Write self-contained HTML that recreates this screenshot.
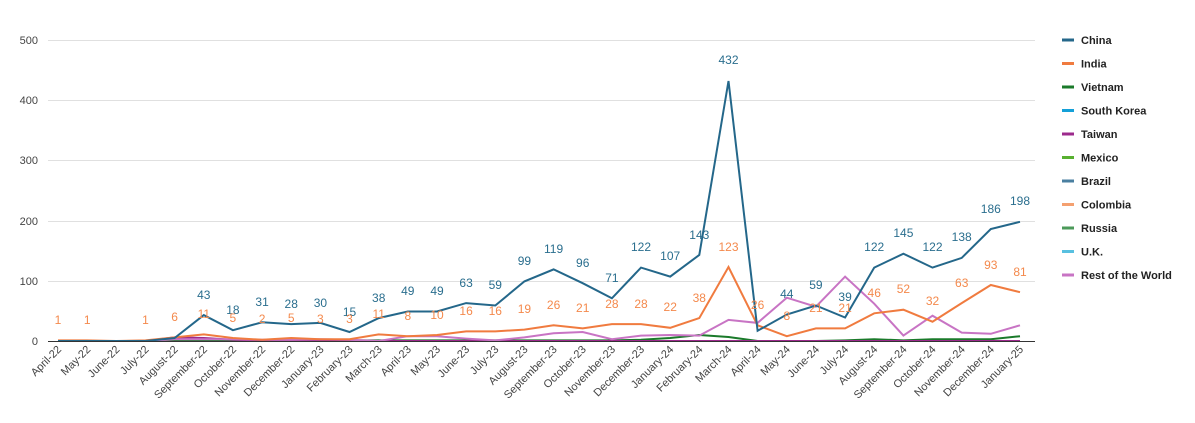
<!DOCTYPE html>
<html><head><meta charset="utf-8"><style>
body{margin:0;background:#fff;}
svg{display:block;font-family:"Liberation Sans",Arial,sans-serif;}
.yl{font-size:11px;fill:#444;text-anchor:end}
.xl{font-size:11px;fill:#444;text-anchor:end}
.lc{font-size:12px;fill:#2a6e8e;text-anchor:middle}
.li{font-size:12px;fill:#f4894c;text-anchor:middle}
.lg{font-size:11px;fill:#222;font-weight:bold}
</style></head><body>
<svg width="1195" height="423" viewBox="0 0 1195 423">
<g stroke="#e0e0e0" stroke-width="1">
<line x1="48" y1="40.5" x2="1035" y2="40.5"/><line x1="48" y1="100.5" x2="1035" y2="100.5"/><line x1="48" y1="160.5" x2="1035" y2="160.5"/><line x1="48" y1="221.5" x2="1035" y2="221.5"/><line x1="48" y1="281.5" x2="1035" y2="281.5"/>
</g>
<g class="yl"><text x="38" y="44">500</text><text x="38" y="104">400</text><text x="38" y="164">300</text><text x="38" y="225">200</text><text x="38" y="285">100</text><text x="38" y="345">0</text></g>
<!-- minor series -->
<polyline fill="none" stroke="#58c0e0" stroke-width="2" points="58,341 1020,341"/>
<polyline fill="none" stroke="#1a7a2a" stroke-width="2" points="58,341 174.6,341 203.8,340 232.9,340 262.1,340.4 291.2,340 320.4,339.8 349.5,340.4 378.7,340.4 407.8,340.4 437,340.4 466.1,340.4 495.3,340.4 524.4,340.4 553.6,340.4 582.7,340.4 611.9,340.4 641,339.8 670.2,338 699.3,335 728.5,337 757.6,341 786.8,341 815.9,341 845.1,340.4 874.2,339.2 903.4,340.4 932.5,339.2 961.7,339.2 990.8,339.2 1020,336.2"/>
<polyline fill="none" stroke="#9c2a8c" stroke-width="2" points="58,341 145.5,341 174.6,337.4 203.8,338 232.9,339.8 262.1,340.4 291.2,340.4 320.4,340.4 349.5,340.4 378.7,341 1020,341"/>
<polyline fill="none" stroke="#c874c4" stroke-width="2" points="58,341 87.2,341 116.3,341 145.5,341 174.6,339.2 203.8,339.2 232.9,339.2 262.1,339.8 291.2,339.8 320.4,339.2 349.5,339.8 378.7,341 407.8,336.2 437,336.2 466.1,338.6 495.3,340.4 524.4,337.4 553.6,333.2 582.7,332 611.9,339.2 641,335.6 670.2,335 699.3,335.6 728.5,319.9 757.6,322.9 786.8,297.7 815.9,306.7 845.1,276.6 874.2,303.7 903.4,335.6 932.5,315.7 961.7,332.6 990.8,333.8 1020,325.3"/>
<polyline fill="none" stroke="#f07b3f" stroke-width="2" points="58,340.4 87.2,340.4 116.3,341 145.5,340.4 174.6,337.4 203.8,334.4 232.9,338 262.1,339.8 291.2,338 320.4,339.2 349.5,339.2 378.7,334.4 407.8,336.2 437,335 466.1,331.4 495.3,331.4 524.4,329.6 553.6,325.3 582.7,328.4 611.9,324.1 641,324.1 670.2,327.8 699.3,318.1 728.5,267 757.6,325.3 786.8,336.2 815.9,328.4 845.1,328.4 874.2,313.3 903.4,309.7 932.5,321.7 961.7,303.1 990.8,285 1020,292.2"/>
<polyline fill="none" stroke="#24678a" stroke-width="2" points="58,341 145.5,341 174.6,338 203.8,315.1 232.9,330.2 262.1,322.3 291.2,324.1 320.4,322.9 349.5,332 378.7,318.1 407.8,311.5 437,311.5 466.1,303.1 495.3,305.5 524.4,281.4 553.6,269.4 582.7,283.2 611.9,298.3 641,267.6 670.2,276.6 699.3,254.9 728.5,81 757.6,330.8 786.8,314.5 815.9,305.5 845.1,317.5 874.2,267.6 903.4,253.7 932.5,267.6 961.7,257.9 990.8,229 1020,221.8"/>
<line x1="48" y1="341.5" x2="1035" y2="341.5" stroke="#333" stroke-width="1"/>
<!-- China labels -->
<g class="lc">
<text x="203.8" y="299">43</text><text x="232.9" y="314">18</text><text x="262.1" y="306">31</text><text x="291.2" y="308">28</text><text x="320.4" y="307">30</text><text x="349.5" y="316">15</text><text x="378.7" y="302">38</text><text x="407.8" y="295">49</text><text x="437" y="295">49</text><text x="466.1" y="287">63</text><text x="495.3" y="289">59</text><text x="524.4" y="265">99</text><text x="553.6" y="253">119</text><text x="582.7" y="267">96</text><text x="611.9" y="282">71</text><text x="641" y="251">122</text><text x="670.2" y="260">107</text><text x="699.3" y="239">143</text><text x="728.5" y="64">432</text><text x="786.8" y="298">44</text><text x="815.9" y="289">59</text><text x="845.1" y="301">39</text><text x="874.2" y="251">122</text><text x="903.4" y="237">145</text><text x="932.5" y="251">122</text><text x="961.7" y="241">138</text><text x="990.8" y="213">186</text><text x="1020" y="205">198</text>
</g>
<g class="li">
<text x="58" y="324">1</text><text x="87.2" y="324">1</text><text x="145.5" y="324">1</text><text x="174.6" y="321">6</text><text x="203.8" y="318">11</text><text x="232.9" y="322">5</text><text x="262.1" y="323">2</text><text x="291.2" y="322">5</text><text x="320.4" y="323">3</text><text x="349.5" y="323">3</text><text x="378.7" y="318">11</text><text x="407.8" y="320">8</text><text x="437" y="319">10</text><text x="466.1" y="315">16</text><text x="495.3" y="315">16</text><text x="524.4" y="313">19</text><text x="553.6" y="309">26</text><text x="582.7" y="312">21</text><text x="611.9" y="308">28</text><text x="641" y="308">28</text><text x="670.2" y="311">22</text><text x="699.3" y="302">38</text><text x="728.5" y="251">123</text><text x="757.6" y="309">26</text><text x="786.8" y="320">8</text><text x="815.9" y="312">21</text><text x="845.1" y="312">21</text><text x="874.2" y="297">46</text><text x="903.4" y="293">52</text><text x="932.5" y="305">32</text><text x="961.7" y="287">63</text><text x="990.8" y="269">93</text><text x="1020" y="276">81</text>
</g>
<g class="xl">
<text transform="translate(62,350) rotate(-45)">April-22</text>
<text transform="translate(91.2,350) rotate(-45)">May-22</text>
<text transform="translate(120.3,350) rotate(-45)">June-22</text>
<text transform="translate(149.5,350) rotate(-45)">July-22</text>
<text transform="translate(178.6,350) rotate(-45)">August-22</text>
<text transform="translate(207.8,350) rotate(-45)">September-22</text>
<text transform="translate(236.9,350) rotate(-45)">October-22</text>
<text transform="translate(266.1,350) rotate(-45)">November-22</text>
<text transform="translate(295.2,350) rotate(-45)">December-22</text>
<text transform="translate(324.4,350) rotate(-45)">January-23</text>
<text transform="translate(353.5,350) rotate(-45)">February-23</text>
<text transform="translate(382.7,350) rotate(-45)">March-23</text>
<text transform="translate(411.8,350) rotate(-45)">April-23</text>
<text transform="translate(441,350) rotate(-45)">May-23</text>
<text transform="translate(470.1,350) rotate(-45)">June-23</text>
<text transform="translate(499.3,350) rotate(-45)">July-23</text>
<text transform="translate(528.4,350) rotate(-45)">August-23</text>
<text transform="translate(557.6,350) rotate(-45)">September-23</text>
<text transform="translate(586.7,350) rotate(-45)">October-23</text>
<text transform="translate(615.9,350) rotate(-45)">November-23</text>
<text transform="translate(645,350) rotate(-45)">December-23</text>
<text transform="translate(674.2,350) rotate(-45)">January-24</text>
<text transform="translate(703.3,350) rotate(-45)">February-24</text>
<text transform="translate(732.5,350) rotate(-45)">March-24</text>
<text transform="translate(761.6,350) rotate(-45)">April-24</text>
<text transform="translate(790.8,350) rotate(-45)">May-24</text>
<text transform="translate(819.9,350) rotate(-45)">June-24</text>
<text transform="translate(849.1,350) rotate(-45)">July-24</text>
<text transform="translate(878.2,350) rotate(-45)">August-24</text>
<text transform="translate(907.4,350) rotate(-45)">September-24</text>
<text transform="translate(936.5,350) rotate(-45)">October-24</text>
<text transform="translate(965.7,350) rotate(-45)">November-24</text>
<text transform="translate(994.8,350) rotate(-45)">December-24</text>
<text transform="translate(1024,350) rotate(-45)">January-25</text>
</g>
<!-- legend -->
<g stroke-width="3">
<line x1="1062" y1="40" x2="1074" y2="40" stroke="#24678a"/>
<line x1="1062" y1="63.5" x2="1074" y2="63.5" stroke="#f07b3f"/>
<line x1="1062" y1="87" x2="1074" y2="87" stroke="#1a7a2a"/>
<line x1="1062" y1="110.5" x2="1074" y2="110.5" stroke="#14a0d8"/>
<line x1="1062" y1="134" x2="1074" y2="134" stroke="#9c2a8c"/>
<line x1="1062" y1="157.5" x2="1074" y2="157.5" stroke="#58b030"/>
<line x1="1062" y1="181" x2="1074" y2="181" stroke="#4a7fa0"/>
<line x1="1062" y1="204.5" x2="1074" y2="204.5" stroke="#f4a070"/>
<line x1="1062" y1="228" x2="1074" y2="228" stroke="#4c9a5a"/>
<line x1="1062" y1="251.5" x2="1074" y2="251.5" stroke="#58c0e0"/>
<line x1="1062" y1="275" x2="1074" y2="275" stroke="#c874c4"/>
</g>
<g class="lg">
<text x="1081" y="44">China</text><text x="1081" y="67.5">India</text><text x="1081" y="91">Vietnam</text><text x="1081" y="114.5">South Korea</text><text x="1081" y="138">Taiwan</text><text x="1081" y="161.5">Mexico</text><text x="1081" y="185">Brazil</text><text x="1081" y="208.5">Colombia</text><text x="1081" y="232">Russia</text><text x="1081" y="255.5">U.K.</text><text x="1081" y="279">Rest of the World</text>
</g>
</svg>
</body></html>
